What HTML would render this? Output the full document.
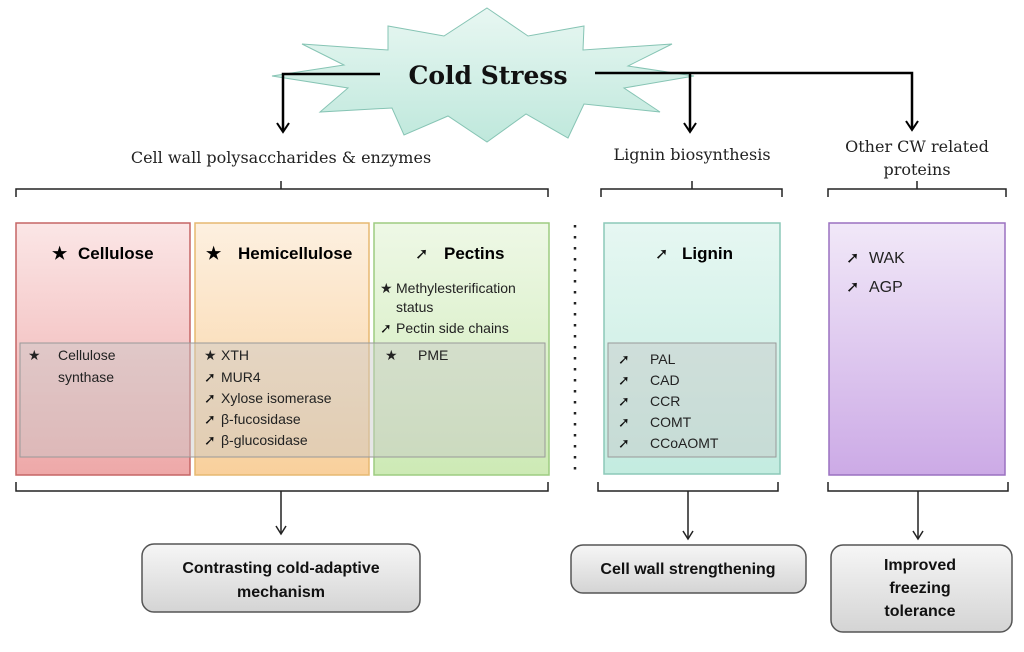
<!DOCTYPE html>
<html><head><meta charset="utf-8"><style>
body{margin:0;background:#fff}
svg text{font-family:"Liberation Sans",sans-serif}
.s{font-family:"DejaVu Serif","Liberation Serif",serif;font-size:16px;fill:#222}
.h{font-weight:bold;font-size:17px}
.t{font-size:14px;fill:#222}
.a{font-family:"DejaVu Sans",sans-serif;font-weight:bold;font-size:14px;fill:#111}
.b{font-weight:bold;font-size:16px;fill:#111}
</style></head><body>
<svg width="1024" height="647" viewBox="0 0 1024 647" xmlns="http://www.w3.org/2000/svg">
<defs>
<linearGradient id="gr" x1="0" y1="0" x2="0" y2="1"><stop offset="0" stop-color="#fbe6e6"/><stop offset="1" stop-color="#eea8a8"/></linearGradient>
<linearGradient id="go" x1="0" y1="0" x2="0" y2="1"><stop offset="0" stop-color="#fdf0e0"/><stop offset="1" stop-color="#f9d09c"/></linearGradient>
<linearGradient id="gg" x1="0" y1="0" x2="0" y2="1"><stop offset="0" stop-color="#eef8e6"/><stop offset="1" stop-color="#cdeab5"/></linearGradient>
<linearGradient id="gt" x1="0" y1="0" x2="0" y2="1"><stop offset="0" stop-color="#e6f7f2"/><stop offset="1" stop-color="#c3ece0"/></linearGradient>
<linearGradient id="gp" x1="0" y1="0" x2="0" y2="1"><stop offset="0" stop-color="#f1e8f8"/><stop offset="1" stop-color="#ccaae6"/></linearGradient>
<linearGradient id="gb" x1="0" y1="0" x2="0" y2="1"><stop offset="0" stop-color="#f6f6f6"/><stop offset="1" stop-color="#d4d4d4"/></linearGradient>
<linearGradient id="gs" x1="0" y1="0" x2="0" y2="1"><stop offset="0" stop-color="#e8f7f2"/><stop offset="1" stop-color="#bfe8dc"/></linearGradient>
</defs>
<polygon fill="url(#gs)" stroke="#86c4b4" stroke-width="1" points="487,8 528,36 584,26 583,50 672,44 628,66 694,76 624,88 660,112 584,104 568,138 526,114 487,142 448,116 404,135 392,108 320,112 348,88 272,76 344,65 302,44 388,50 388,26 444,36"/>
<text x="488" y="84" text-anchor="middle" style="font-family:'DejaVu Serif',serif;font-weight:bold;font-size:25px" fill="#111">Cold Stress</text>
<g stroke="#000" stroke-width="2.5" fill="none">
<polyline points="380,74 283,74 283,130"/>
<polyline points="595,73 912,73 912,128"/>
<line x1="690" y1="73" x2="690" y2="130"/>
</g>
<g fill="none" stroke="#000" stroke-width="2">
<polyline points="277,123 283,132 289,123"/><polyline points="684,123 690,132 696,123"/><polyline points="906,121 912,130 918,121"/>
</g>
<text class="s" x="281" y="163" text-anchor="middle">Cell wall polysaccharides &amp; enzymes</text>
<text class="s" x="692" y="160" text-anchor="middle">Lignin biosynthesis</text>
<text class="s" x="917" y="152" text-anchor="middle">Other CW related</text>
<text class="s" x="917" y="175" text-anchor="middle">proteins</text>
<g fill="none" stroke="#222" stroke-width="1.5">
<path d="M16,197 L16,189 L548,189 L548,197 M281,189 L281,181"/>
<path d="M601,197 L601,189 L782,189 L782,197 M692,189 L692,181"/>
<path d="M828,197 L828,189 L1006,189 L1006,197 M917,189 L917,181"/>
<path d="M16,482 L16,491 L548,491 L548,482 M281,491 L281,533"/>
<path d="M598,482 L598,491 L778,491 L778,482 M688,491 L688,538"/>
<path d="M828,482 L828,491 L1008,491 L1008,482 M918,491 L918,538"/>
<polyline points="276,526 281,534 286,526"/><polyline points="683,531 688,539 693,531"/><polyline points="913,531 918,539 923,531"/>
</g>
<rect x="16" y="223" width="174" height="252" fill="url(#gr)" stroke="#c56565" stroke-width="1.5"/>
<rect x="195" y="223" width="174" height="252" fill="url(#go)" stroke="#e6b870" stroke-width="1.5"/>
<rect x="374" y="223" width="175" height="252" fill="url(#gg)" stroke="#9dcc80" stroke-width="1.5"/>
<rect x="604" y="223" width="176" height="251" fill="url(#gt)" stroke="#8cc8b8" stroke-width="1.5"/>
<rect x="829" y="223" width="176" height="252" fill="url(#gp)" stroke="#9a70c0" stroke-width="1.5"/>
<rect x="20" y="343" width="525" height="114" fill="#c8c8c8" fill-opacity="0.45" stroke="#999" stroke-width="1"/>
<rect x="608" y="343" width="168" height="114" fill="#c8c8c8" fill-opacity="0.45" stroke="#999" stroke-width="1"/>
<line x1="575" y1="225" x2="575" y2="472" stroke="#222" stroke-width="2.5" stroke-dasharray="2.5,8.5"/>
<text class="h" x="52" y="259">★</text><text class="h" x="78" y="259">Cellulose</text>
<text class="h" x="206" y="259">★</text><text class="h" x="238" y="259">Hemicellulose</text>
<text class="a" x="415" y="259" style="font-size:16px">➚</text><text class="h" x="444" y="259">Pectins</text>
<text class="t" x="380" y="293">★</text><text class="t" x="396" y="293">Methylesterification</text>
<text class="t" x="396" y="312">status</text>
<text class="a" x="380" y="333">➚</text><text class="t" x="396" y="333">Pectin side chains</text>
<text class="t" x="28" y="360">★</text><text class="t" x="58" y="360">Cellulose</text><text class="t" x="58" y="382">synthase</text>
<text class="t" x="204" y="360">★</text><text class="a" x="204" y="382">➚</text><text class="a" x="204" y="403">➚</text><text class="a" x="204" y="424">➚</text><text class="a" x="204" y="445">➚</text>
<text class="t" x="221" y="360">XTH</text><text class="t" x="221" y="382">MUR4</text><text class="t" x="221" y="403">Xylose isomerase</text><text class="t" x="221" y="424">β-fucosidase</text><text class="t" x="221" y="445">β-glucosidase</text>
<text class="t" x="385" y="360">★</text><text class="t" x="418" y="360">PME</text>
<text class="a" x="655" y="259" style="font-size:16px">➚</text><text class="h" x="682" y="259">Lignin</text>
<text class="a" x="618" y="364">➚</text><text class="a" x="618" y="385">➚</text><text class="a" x="618" y="406">➚</text><text class="a" x="618" y="427">➚</text><text class="a" x="618" y="448">➚</text>
<text class="t" x="650" y="364">PAL</text><text class="t" x="650" y="385">CAD</text><text class="t" x="650" y="406">CCR</text><text class="t" x="650" y="427">COMT</text><text class="t" x="650" y="448">CCoAOMT</text>
<text class="a" x="846" y="263" style="font-size:16px">➚</text><text x="869" y="263" style="font-size:16px" fill="#222">WAK</text>
<text class="a" x="846" y="292" style="font-size:16px">➚</text><text x="869" y="292" style="font-size:16px" fill="#222">AGP</text>
<rect x="142" y="544" width="278" height="68" rx="12" fill="url(#gb)" stroke="#555" stroke-width="1.5"/>
<rect x="571" y="545" width="235" height="48" rx="12" fill="url(#gb)" stroke="#555" stroke-width="1.5"/>
<rect x="831" y="545" width="181" height="87" rx="12" fill="url(#gb)" stroke="#555" stroke-width="1.5"/>
<text class="b" x="281" y="573" text-anchor="middle">Contrasting cold-adaptive</text>
<text class="b" x="281" y="597" text-anchor="middle">mechanism</text>
<text class="b" x="688" y="574" text-anchor="middle">Cell wall strengthening</text>
<text class="b" x="920" y="570" text-anchor="middle">Improved</text>
<text class="b" x="920" y="593" text-anchor="middle">freezing</text>
<text class="b" x="920" y="616" text-anchor="middle">tolerance</text>
</svg>
</body></html>
